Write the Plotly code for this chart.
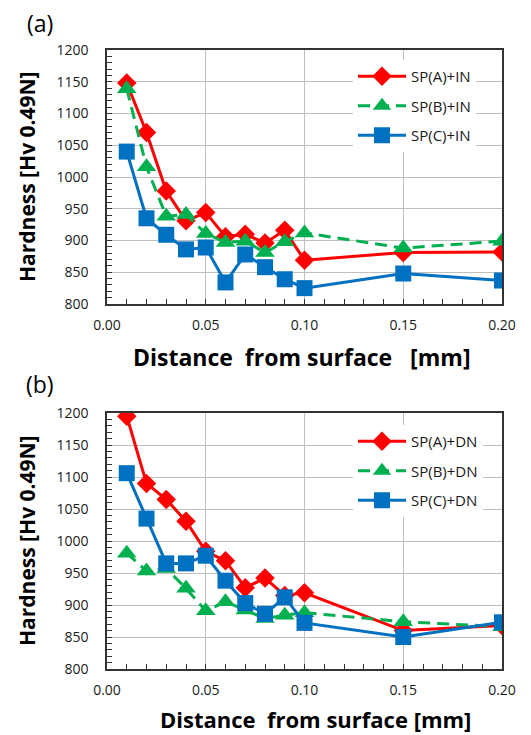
import plotly.graph_objects as go

depth = [0.01, 0.02, 0.03, 0.04, 0.05, 0.06, 0.07, 0.08, 0.09, 0.10, 0.15, 0.20]

a_spA = [1148, 1070, 978, 931, 944, 906, 910, 896, 916, 869, 881, 882]
a_spB = [1139, 1016, 938, 941, 911, 897, 899, 881, 898, 912, 888, 899]
a_spC = [1040, 935, 909, 886, 889, 834, 878, 858, 839, 825, 848, 837]

b_spA = [1195, 1090, 1065, 1031, 984, 969, 927, 942, 915, 919, 860, 868]
b_spB = [981, 953, 957, 926, 891, 905, 892, 879, 884, 888, 874, 866]
b_spC = [1106, 1035, 965, 965, 977, 938, 903, 886, 912, 872, 850, 873]

names_a = ["SP(A)+IN", "SP(B)+IN", "SP(C)+IN"]
names_b = ["SP(A)+DN", "SP(B)+DN", "SP(C)+DN"]

RED = "#FF0000"
GREEN = "#00B050"
BLUE = "#0070C0"
FONT = "Open Sans"

styles = [
    dict(color=RED, dash="solid", symbol="diamond", size=15),
    dict(color=GREEN, dash="12px,7px", symbol="triangle-up", size=17),
    dict(color=BLUE, dash="solid", symbol="square", size=16),
]

fig = go.Figure()

for series, name, st in zip([a_spA, a_spB, a_spC], names_a, styles):
    fig.add_trace(go.Scatter(
        x=depth, y=series, name=name, mode="lines+markers",
        line=dict(color=st["color"], width=3, dash=st["dash"]),
        marker=dict(color=st["color"], symbol=st["symbol"], size=st["size"]),
        xaxis="x", yaxis="y", legend="legend", legendgroup=name,
    ))

for series, name, st in zip([b_spA, b_spB, b_spC], names_b, styles):
    fig.add_trace(go.Scatter(
        x=depth, y=series, name=name, mode="lines+markers",
        line=dict(color=st["color"], width=3, dash=st["dash"]),
        marker=dict(color=st["color"], symbol=st["symbol"], size=st["size"]),
        xaxis="x2", yaxis="y2", legend="legend2", legendgroup=name,
    ))

# page body adds an 8px offset; lay out in window pixels minus that offset
OFF = 8
W, H = 531 - OFF, 735 - OFF

def px(x):
    return (x - OFF) / W

def py(y):
    return 1 - (y - OFF) / H

xdom = [px(107), px(502)]
ydom_a = [py(304), py(50)]
ydom_b = [py(669), py(413)]

def xaxis(anchor, dom):
    return dict(
        domain=dom, anchor=anchor, range=[0, 0.2], dtick=0.05, tickformat=".2f",
        showgrid=True, gridcolor="#BFBFBF", gridwidth=1,
        showline=True, linecolor="#333333", linewidth=1.5, mirror=True,
        ticks="inside", ticklen=5, tickcolor="#333333",
        minor=dict(dtick=0.01, ticks="inside", ticklen=5, tickcolor="#333333", showgrid=False),
        tickfont=dict(family=FONT, size=14, color="#1a1a1a"),
        ticklabelstandoff=7, zeroline=False, automargin=False,
    )

def yaxis(anchor, dom):
    return dict(
        domain=dom, anchor=anchor, range=[800, 1200], dtick=50,
        showgrid=True, gridcolor="#BFBFBF", gridwidth=1,
        showline=True, linecolor="#333333", linewidth=1.5, mirror=True,
        ticks="inside", ticklen=5, tickcolor="#333333",
        minor=dict(dtick=10, ticks="inside", ticklen=5, tickcolor="#333333", showgrid=False),
        tickfont=dict(family=FONT, size=14, color="#1a1a1a"),
        ticklabelstandoff=14, zeroline=False, automargin=False,
    )

leg = dict(
    bgcolor="white", borderwidth=0, font=dict(family=FONT, size=15, color="#1a1a1a"),
    tracegroupgap=7, itemwidth=48, xanchor="left", yanchor="top",
)

fig.update_layout(
    width=W, height=H, margin=dict(l=0, r=0, t=0, b=0, autoexpand=False),
    paper_bgcolor="white", plot_bgcolor="white",
    xaxis=xaxis("y", xdom), yaxis=yaxis("x", ydom_a),
    xaxis2=xaxis("y2", xdom), yaxis2=yaxis("x2", ydom_b),
    legend=dict(leg, x=px(353), y=py(60)),
    legend2=dict(leg, x=px(353), y=py(425)),
    showlegend=True,
)

def note(text, x, y, size, bold=False, angle=0):
    f = dict(family=FONT, size=size, color="black")
    if bold:
        f["weight"] = "bold"
    return dict(text=text, x=px(x), y=py(y), xref="paper", yref="paper",
                xanchor="center", yanchor="middle", textangle=angle,
                showarrow=False, font=f)

ann = [
    note("(a)", 40, 23, 23),
    note("(b)", 40, 384, 23),
    note("Hardness [Hv 0.49N]", 27, 177, 21, bold=True, angle=-90),
    note("Hardness [Hv 0.49N]", 27, 541, 21, bold=True, angle=-90),
    note("Distance\u00a0 from surface\u00a0\u00a0 [mm]", 302, 357, 23, bold=True),
    note("Distance\u00a0 from surface [mm]", 315, 719, 22, bold=True),
]
fig.update_layout(annotations=ann)

fig.write_html("out.html")
